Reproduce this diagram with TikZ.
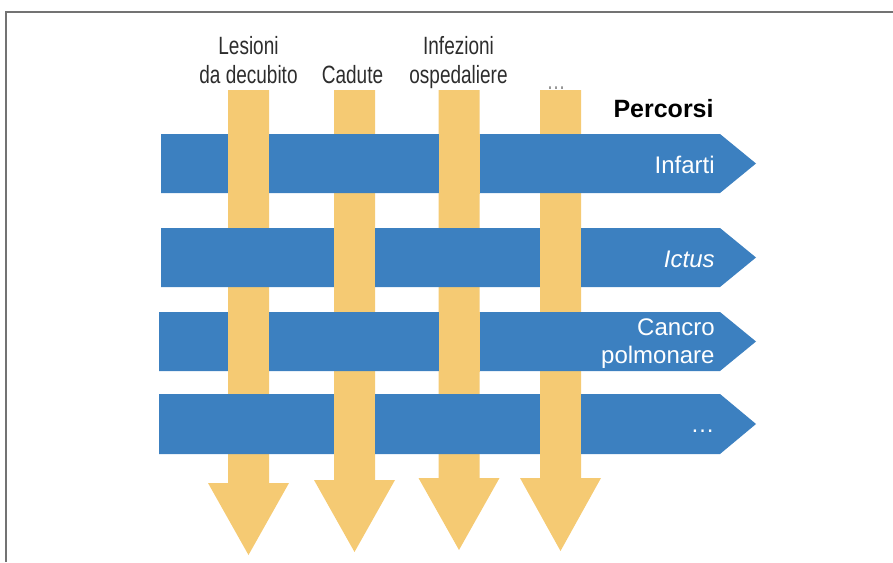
\documentclass[tikz,border=0pt]{standalone}
\usepackage{fontspec}
\setmainfont{Liberation Sans}
\newfontfamily\narrowfont[FakeStretch=0.76]{Liberation Sans}
\definecolor{pathblue}{RGB}{60,128,192}
\definecolor{riskyellow}{RGB}{245,202,115}
\definecolor{labelgray}{RGB}{45,45,45}

\begin{document}
\begin{tikzpicture}[
  toplabel/.style={font=\narrowfont\fontsize{12.5}{14}\selectfont, text=labelgray, align=center, inner sep=0pt, anchor=base},
  pathlabel/.style={font=\fontsize{12}{14}\selectfont, text=white, align=right, inner sep=0pt, anchor=base east}]
\begin{scope}[x=0.5pt, y=-0.5pt]
\useasboundingbox (0,0) rectangle (893,562);

\draw[line width=0.6pt, black!55] (6,562) -- (6,12) -- (893,12);

\node[toplabel] (lesioni) at (248.5,83) {Lesioni\\da decubito};
\node[toplabel] (cadute) at (352.5,83) {Cadute};
\node[toplabel] (infezioni) at (458.5,83) {Infezioni\\ospedaliere};
\node[toplabel, text=black!45] (altririschi) at (556,89) {\ldots};

% rischi (down arrows)
\foreach \cx/\hb/\tp in {248.5/483/555, 354.5/480/552, 459/478/550, 560.5/478/551}
  \fill[riskyellow] (\cx-20.5,90) -- (\cx+20.5,90) -- (\cx+20.5,\hb) -- (\cx+40.5,\hb)
    -- (\cx,\tp) -- (\cx-40.5,\hb) -- (\cx-20.5,\hb) -- cycle;

% percorsi (right arrows)
\foreach \ya/\yb/\xl in {134/193/161, 228/287/161, 312/371/159, 394/454/159}
  \fill[pathblue] (\xl,\ya) -- (720,\ya) -- (756,{(\ya+\yb)/2}) -- (720,\yb) -- (\xl,\yb) -- cycle;

% weave: yellow on top
\foreach \cx/\ya/\yb in {248.5/134/193, 459/134/193, 354.5/228/287, 560.5/228/287,
                          248.5/312/371, 459/312/371, 354.5/394/454, 560.5/394/454}
  \fill[riskyellow] (\cx-20.5,\ya-0.5) rectangle (\cx+20.5,\yb+0.5);

\node[font=\bfseries\fontsize{12.5}{14}\selectfont, anchor=base east, inner sep=0pt] (percorsi) at (714,117) {Percorsi};
\node[pathlabel] (infarti) at (715,173) {Infarti};
\node[pathlabel] (ictus) at (715,267) {\textit{Ictus}};
\node[pathlabel] (cancro) at (715,363) {Cancro\\polmonare};
\node[pathlabel] (altripercorsi) at (715,432) {\ldots};

\end{scope}
\end{tikzpicture}
\end{document}
